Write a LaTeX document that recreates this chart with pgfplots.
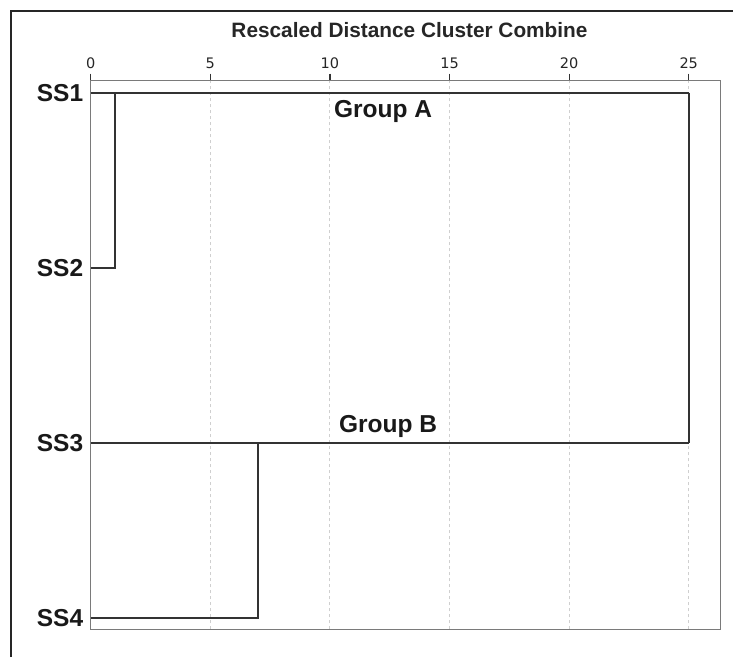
\documentclass[border=0pt]{standalone}
\usepackage{pgfplots}
\pgfplotsset{compat=1.18}
\usepackage{fontspec}
\setmainfont{Liberation Sans}
\newfontfamily\tickfont{DejaVu Sans}
\definecolor{axgray}{HTML}{7A7A7A}
\definecolor{dendro}{HTML}{333333}
\definecolor{gridgray}{HTML}{CFCFCF}
\begin{document}
\begin{tikzpicture}[x=1pt,y=1pt]
\useasboundingbox (0,0) rectangle (733,657);
\draw[line width=2pt, color=black!85] (11,0) -- (11,646) -- (733,646);
\begin{axis}[
  at={(90.7pt,27.7pt)}, anchor=south west,
  scale only axis, width=629.6pt, height=548.6pt,
  xmin=0, xmax=26.32, ymin=0.937, ymax=4.068,
  axis line style={color=axgray, line width=1.5pt},
  xtick={0,5,10,15,20,25},
  xticklabel pos=upper,
  xtick pos=upper,
  ytick pos=lower,
  yticklabel pos=lower,
  x tick style={color=dendro, line width=1.2pt},
  major tick length=7pt,
  tick align=outside,
  xticklabel style={font=\tickfont\fontsize{14.5}{16}\selectfont, color=black!85, yshift=1pt},
  /pgf/number format/assume math mode=true,
  ytick={1,2,3,4},
  yticklabels={SS4,SS3,SS2,SS1},
  y tick style={draw=none},
  yticklabel style={font=\bfseries\fontsize{24.5}{27}\selectfont, color=black!90, xshift=3pt},
  xmajorgrids, grid style={color=gridgray, dashed, line width=1pt},
  title={\bfseries Rescaled Distance Cluster Combine},
  title style={font=\bfseries\fontsize{20.8}{23}\selectfont, color=black!85, at={(0.5,1)}, anchor=south, yshift=33pt, xshift=4pt},
  clip=false,
]
\addplot[dendro, line width=2pt] coordinates {(0,4) (25,4)};
\addplot[dendro, line width=2pt] coordinates {(1,4) (1,3) (0,3)};
\addplot[dendro, line width=2pt] coordinates {(0,2) (25,2)};
\addplot[dendro, line width=2pt] coordinates {(7,2) (7,1) (0,1)};
\addplot[dendro, line width=2pt] coordinates {(25,4) (25,2)};
\node[font=\bfseries\fontsize{24.5}{27}\selectfont, color=black!90] at (axis cs:12.22,3.89) {Group A};
\node[font=\bfseries\fontsize{24.5}{27}\selectfont, color=black!90] at (axis cs:12.43,2.095) {Group B};
\end{axis}
\end{tikzpicture}
\end{document}
